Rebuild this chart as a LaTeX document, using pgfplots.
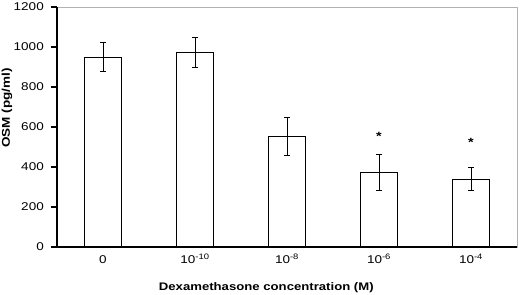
\documentclass[border=0pt]{standalone}
\usepackage{pgfplots}
\pgfplotsset{compat=1.18}
\usepackage{fontspec}
\setmainfont{Liberation Sans}[FakeStretch=1.2]
\begin{document}
\begin{tikzpicture}
\begin{axis}[
  scale only axis,
  width=460bp, height=240bp,
  xmin=-0.5, xmax=4.5,
  ymin=0, ymax=1200,
  ytick={0,200,...,1200},
  xtick={0,1,2,3,4},
  xticklabels={0,10\textsuperscript{-10},10\textsuperscript{-8},10\textsuperscript{-6},10\textsuperscript{-4}},
  major tick length=6bp,
  major x tick style={draw=none},
  extra x ticks={-0.5,0.5,1.5,2.5,3.5,4.5},
  extra x tick labels={},
  extra x tick style={major tick length=7bp, tick align=center, major tick style={line width=1.3pt, black}},
  y tick style={line width=1.3pt, black},
  ytick align=outside,
  ytick pos=left, 
  axis line style={draw=gray!60, line width=0.5pt},
  /pgf/number format/assume math mode=true,
  /pgf/number format/1000 sep={},
  tick label style={font=\fontsize{11.3}{13}\selectfont},
  xticklabel style={anchor=base, yshift=-16bp},
  yticklabel style={anchor=east, xshift=-3.7bp},
  xlabel={\bfseries Dexamethasone concentration (M)},
  ylabel={\bfseries OSM (pg/ml)},
  xlabel style={font=\fontsize{11}{13}\selectfont, at={(axis description cs:0.455,-0.17)}, anchor=center},
  ylabel style={font=\fontsize{11.3}{13}\selectfont, at={(axis description cs:-0.1087,0.579)}, anchor=center},
  clip=false,
]
\addplot[ybar, bar width=0.4, fill=white, draw=black, line width=0.6pt,
  error bars/.cd, y dir=both, y explicit, error mark options={rotate=90, mark size=3bp, line width=0.6pt},
  error bar style={line width=0.6pt, black}]
coordinates {
  (0,950) +- (0,73)
  (1,972) +- (0,75)
  (2,555) +- (0,95)
  (3,372) +- (0,90)
  (4,340) +- (0,57)
};
\addplot[only marks, mark=none, nodes near coords, point meta=explicit symbolic,
  nodes near coords style={font=\bfseries\fontsize{12}{12}\selectfont, anchor=center}]
coordinates {
  (3,555) [*]
  (4,525) [*]
};
\draw[black, line width=1.3pt] (rel axis cs:0,1) -- (rel axis cs:0,0) -- (rel axis cs:1,0);
\coordinate (ll) at (rel axis cs:0,0);
\end{axis}
\pgfresetboundingbox
\path ([shift={(-57bp,-48bp)}]ll) rectangle ([shift={(463bp,247bp)}]ll);
\end{tikzpicture}
\end{document}
